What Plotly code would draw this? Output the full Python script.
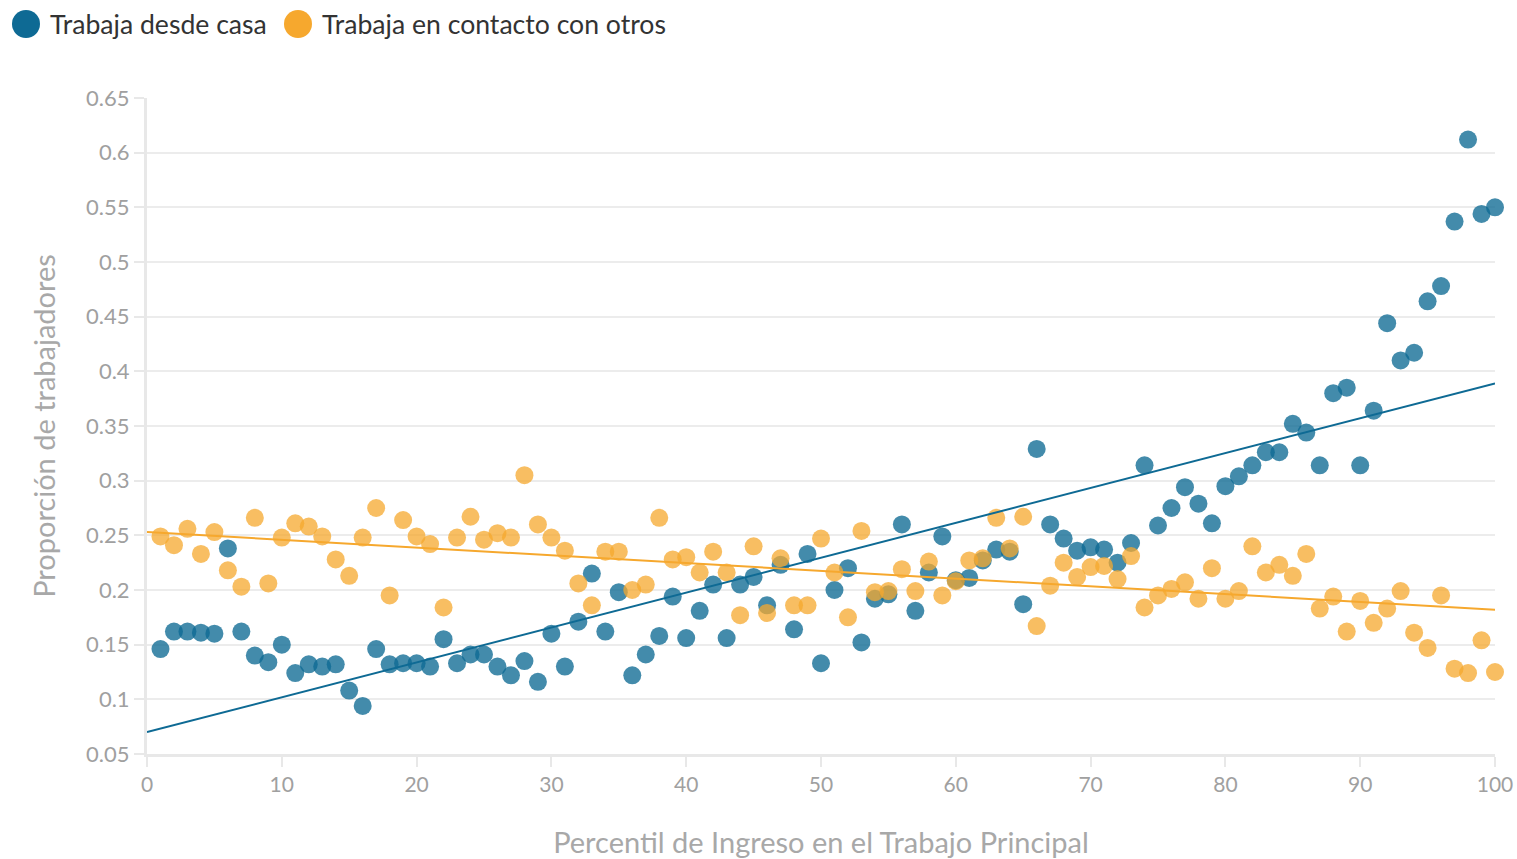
import plotly.graph_objects as go

percentil = list(range(1, 101))

casa = [0.146, 0.162, 0.162, 0.161, 0.160, 0.238, 0.162, 0.140, 0.134, 0.150,
        0.124, 0.132, 0.130, 0.132, 0.108, 0.094, 0.146, 0.132, 0.133, 0.133,
        0.130, 0.155, 0.133, 0.141, 0.141, 0.130, 0.122, 0.135, 0.116, 0.160,
        0.130, 0.171, 0.215, 0.162, 0.198, 0.122, 0.141, 0.158, 0.194, 0.156,
        0.181, 0.205, 0.156, 0.205, 0.212, 0.186, 0.223, 0.164, 0.233, 0.133,
        0.200, 0.220, 0.152, 0.192, 0.196, 0.260, 0.181, 0.216, 0.249, 0.209,
        0.211, 0.227, 0.237, 0.235, 0.187, 0.329, 0.260, 0.247, 0.236, 0.239,
        0.237, 0.225, 0.243, 0.314, 0.259, 0.275, 0.294, 0.279, 0.261, 0.295,
        0.304, 0.314, 0.326, 0.326, 0.352, 0.344, 0.314, 0.380, 0.385, 0.314,
        0.364, 0.444, 0.410, 0.417, 0.464, 0.478, 0.537, 0.612, 0.544, 0.550]

contacto = [0.249, 0.241, 0.256, 0.233, 0.253, 0.218, 0.203, 0.266, 0.206, 0.248,
            0.261, 0.258, 0.249, 0.228, 0.213, 0.248, 0.275, 0.195, 0.264, 0.249,
            0.242, 0.184, 0.248, 0.267, 0.246, 0.252, 0.248, 0.305, 0.260, 0.248,
            0.236, 0.206, 0.186, 0.235, 0.235, 0.200, 0.205, 0.266, 0.228, 0.230,
            0.216, 0.235, 0.216, 0.177, 0.240, 0.179, 0.229, 0.186, 0.186, 0.247,
            0.216, 0.175, 0.254, 0.198, 0.199, 0.219, 0.199, 0.226, 0.195, 0.208,
            0.227, 0.229, 0.266, 0.238, 0.267, 0.167, 0.204, 0.225, 0.212, 0.221,
            0.222, 0.210, 0.231, 0.184, 0.195, 0.201, 0.207, 0.192, 0.220, 0.192,
            0.199, 0.240, 0.216, 0.223, 0.213, 0.233, 0.183, 0.194, 0.162, 0.190,
            0.170, 0.183, 0.199, 0.161, 0.147, 0.195, 0.128, 0.124, 0.154, 0.125]

trend_x = [0, 100]
trend_casa = [0.070, 0.389]
trend_contacto = [0.253, 0.182]

series_names = ["Trabaja desde casa", "Trabaja en contacto con otros"]

BLUE = "#0e6a94"
ORANGE = "#f6a82e"
FONT = "Lato"

W, H = 1517, 859
ML, MR, MT, MB = 147, 22, 98, 105
PW, PH = W - ML - MR, H - MT - MB


def px_to_paper(px, py):
    return (px - ML) / PW, 1 - (py - MT) / PH


fig = go.Figure()
fig.add_trace(go.Scatter(x=percentil, y=casa, mode="markers", name=series_names[0],
                         marker=dict(color=BLUE, size=18, opacity=0.78, line=dict(width=0)),
                         cliponaxis=False, showlegend=False))
fig.add_trace(go.Scatter(x=percentil, y=contacto, mode="markers", name=series_names[1],
                         marker=dict(color=ORANGE, size=18, opacity=0.75, line=dict(width=0)),
                         cliponaxis=False, showlegend=False))
fig.add_trace(go.Scatter(x=trend_x, y=trend_casa, mode="lines", showlegend=False,
                         line=dict(color=BLUE, width=2), hoverinfo="skip"))
fig.add_trace(go.Scatter(x=trend_x, y=trend_contacto, mode="lines", showlegend=False,
                         line=dict(color=ORANGE, width=2), hoverinfo="skip"))

# custom legend (large circular swatches)
legend_items = [(26, 48, BLUE, series_names[0]), (298, 320, ORANGE, series_names[1])]
shapes = []
annotations = []
for cx, tx, col, name in legend_items:
    ax, ay = px_to_paper(cx, 24)
    shapes.append(dict(type="circle", xref="paper", yref="paper", xsizemode="pixel", ysizemode="pixel",
                       xanchor=ax, yanchor=ay, x0=-14, x1=14, y0=-14, y1=14,
                       fillcolor=col, line=dict(width=0)))
    tx_p, ty_p = px_to_paper(tx, 24)
    annotations.append(dict(text=name, xref="paper", yref="paper", x=tx_p, y=ty_p,
                            xanchor="left", yanchor="middle", showarrow=False,
                            font=dict(size=26.6, color="#333333", family=FONT)))

fig.update_layout(
    width=W, height=H,
    margin=dict(l=ML, r=MR, t=MT, b=MB),
    plot_bgcolor="white", paper_bgcolor="white",
    font=dict(family=FONT, color="#999999"),
    showlegend=False,
    shapes=shapes,
    annotations=annotations,
    xaxis=dict(range=[0, 100], tickvals=[0, 10, 20, 30, 40, 50, 60, 70, 80, 90, 100],
               showgrid=False, zeroline=False, showline=True, linecolor="#e8e8e8", linewidth=3,
               ticks="outside", ticklen=10, tickcolor="#e8e8e8", tickwidth=2, automargin=False,
               tickfont=dict(size=21, color="#a0a0a0", family=FONT),
               title=dict(text="Percentil de Ingreso en el Trabajo Principal",
                          font=dict(size=29, color="#a8a8a8", family=FONT), standoff=38)),
    yaxis=dict(range=[0.05, 0.65], tickvals=[0.05, 0.1, 0.15, 0.2, 0.25, 0.3, 0.35, 0.4, 0.45, 0.5, 0.55, 0.6, 0.65],
               ticktext=["0.05", "0.1", "0.15", "0.2", "0.25", "0.3", "0.35", "0.4", "0.45", "0.5", "0.55", "0.6", "0.65"],
               showgrid=True, gridcolor="#ececec", gridwidth=2, zeroline=False,
               showline=True, linecolor="#e8e8e8", linewidth=3, automargin=False,
               ticks="outside", ticklen=10, tickcolor="#e8e8e8", tickwidth=2,
               tickfont=dict(size=22, color="#a0a0a0", family=FONT),
               title=dict(text="Proporción de trabajadores",
                          font=dict(size=29, color="#a8a8a8", family=FONT), standoff=22)),
)

fig.write_html("out.html", config={"displayModeBar": False},
               post_script="document.body.style.margin='0';document.body.style.padding='0';")
